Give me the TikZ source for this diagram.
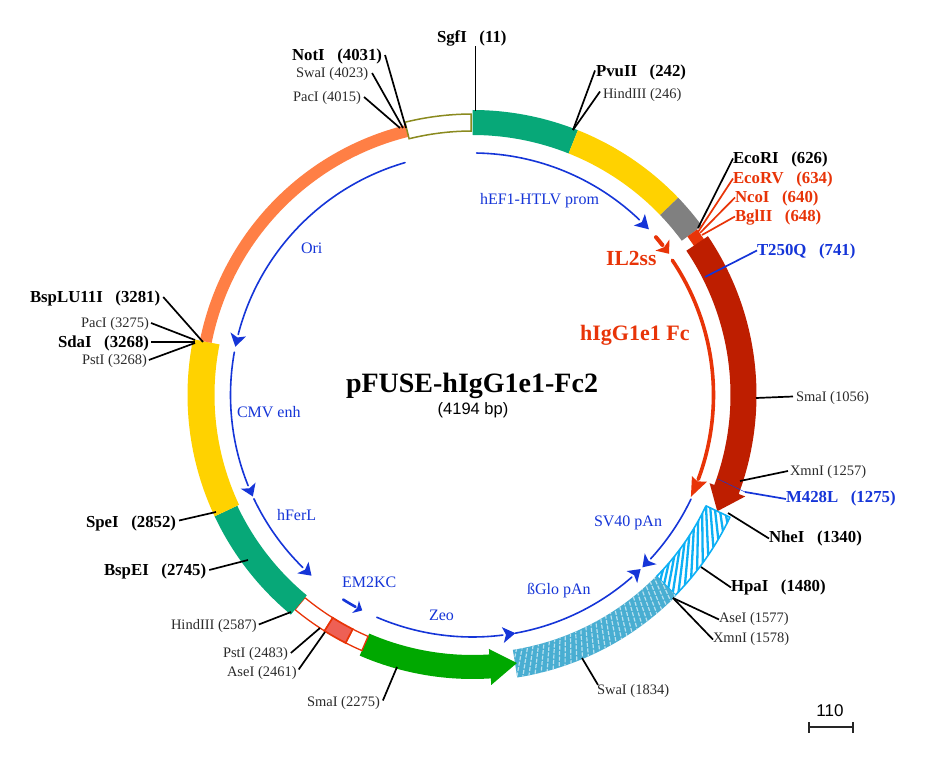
\documentclass[tikz,border=0pt]{standalone}
\usepackage{fontspec}
\setmainfont{Liberation Serif}
\newfontfamily\lsans{Liberation Sans}
\definecolor{cGreen}{HTML}{07A878}
\definecolor{cYellow}{HTML}{FFD200}
\definecolor{cOrange}{HTML}{FF7F45}
\definecolor{cOlive}{HTML}{8A8A1E}
\definecolor{cGrey}{HTML}{808080}
\definecolor{cDark}{HTML}{BE1E00}
\definecolor{cRed}{HTML}{E83408}
\definecolor{cLtRed}{HTML}{EE6055}
\definecolor{cBlue}{HTML}{1535D8}
\definecolor{cBright}{HTML}{0DB0F5}
\definecolor{cHatch}{HTML}{49AED2}
\definecolor{cZeo}{HTML}{00A800}
\definecolor{cTxt}{HTML}{2B2B2B}
\newcommand{\bandpath}[4]{(90-#1:#4) arc[start angle=90-#1,end angle=90-#2,radius=#4] -- (90-#2:#3) arc[start angle=90-#2,end angle=90-#1,radius=#3] -- cycle}
% inner feature arrow: start, end, head base angle, inner wing radius, line width, colour
\newcommand{\innerarrow}[6]{%
  \draw[#6,line width=#5,line cap=round] (90-#1:242) arc[start angle=90-#1,end angle=90-#3,radius=242];
  \fill[#6] (90-#3:#4) -- (90-#2:242) -- (90-#3:484-#4) -- (90-#3-0.25*#2+0.25*#3:242) -- cycle;}
\tikzset{
  lab/.style={anchor=west,inner sep=0pt,outer sep=0pt,yshift=-1.5pt,font=\fontsize{14.5}{16}\selectfont,text=cTxt},
  blab/.style={lab,font=\fontsize{16.8}{18}\selectfont\bfseries,text=black},
  rlab/.style={blab,text=cRed},
  ulab/.style={blab,text=cBlue},
  flab/.style={lab,font=\fontsize{16}{18}\selectfont,text=cBlue},
  con/.style={black,line width=1.7pt},
  rcon/.style={cRed,line width=1.7pt},
  ucon/.style={cBlue,line width=1.7pt}
}
\begin{document}
\begin{tikzpicture}[x=1pt,y=1pt]
\useasboundingbox (0,0) rectangle (948,-767);
\fill[white] (0,0) rectangle (948,-767);
\begin{scope}[shift={(472.5,-395)}]
 % outer bands
 \fill[cGreen] \bandpath{0}{21.7}{260}{285};
 \fill[cYellow] \bandpath{21.7}{46.2}{260}{285};
 \fill[cGrey] \bandpath{46.2}{53.6}{260}{285};
 \fill[cRed] \bandpath{53.6}{56.2}{267}{279};
 % dark red arrow
 \fill[cDark] (90-56:258) arc[start angle=90-56,end angle=90-110.4,radius=258] -- (90-110.4:253) -- (90-115.4:271) -- (90-110.4:291) -- (90-110.4:284) arc[start angle=90-110.4,end angle=90-56,radius=284] -- cycle;
 % cyan hatch
 \begin{scope}
  \clip \bandpath{115.4}{134.6}{258.5}{285};
  \foreach \a in {100,101.9,...,136}{
   \draw[cBright,line width=2.3pt] (90-\a:258) -- (90-\a-9:285);}
 \end{scope}
 \draw[cBright,line width=1.6pt,line join=round] \bandpath{115.4}{134.6}{258.5}{285};
 % blue hatch
 \fill[cHatch] \bandpath{134.6}{171}{258}{286};
 \begin{scope}
  \clip \bandpath{134.6}{171}{258}{286};
  \foreach \a in {130,131.25,...,172}{
   \pgfmathsetmacro{\ph}{mod(\a*3.1,5.5)}
   \draw[white!62!cHatch,line width=1.2pt,dash pattern=on 4pt off 1.5pt,dash phase=\ph pt] (90-\a:256) -- (90-\a-2.5:288);}
 \end{scope}
 % green arrow
 \fill[cZeo] (90-203.4:260) arc[start angle=90-203.4,end angle=90-176.3,radius=260] -- (90-176.3:254.5) -- (90-170.6:271.7) -- (90-176.3:290.6) -- (90-176.3:284) arc[start angle=90-176.3,end angle=90-203.4,radius=284] -- cycle;
 % red outlined
 \draw[cRed,line width=1.3pt] \bandpath{203.4}{207.1}{263}{278.5};
 \draw[cRed,line width=1.3pt] \bandpath{212.1}{219.6}{263}{278.5};
 \fill[cLtRed] \bandpath{207.1}{212.1}{263}{278.5};
 \draw[cRed,line width=1.7pt] \bandpath{207.1}{212.1}{263}{278.5};
 % green 2, yellow 2, orange, olive
 \fill[cGreen] \bandpath{219.6}{244.8}{260}{285};
 \fill[cYellow] \bandpath{244.8}{281.3}{258}{285};
 \fill[cOrange] \bandpath{281.3}{346.1}{266}{278};
 \draw[cOlive,line width=1.5pt] \bandpath{346.1}{359.7}{264}{281};
 % inner arrows
 \innerarrow{1}{46.8}{43.6}{234}{1.6pt}{cBlue}
 \innerarrow{49.3}{54.3}{51.7}{233}{4pt}{cRed}
 \draw[cRed,line width=3.6pt,line cap=round] (90-56:241) arc[start angle=90-56,end angle=90-110.5,radius=241];
 \fill[cRed] (90-110.3:234) -- (90-115:241) -- (90-110.3:250) -- (90-111:241)-- cycle;
 \innerarrow{115.5}{135.4}{132.6}{234}{1.6pt}{cBlue}
 \innerarrow{169.8}{136}{138.8}{234}{1.6pt}{cBlue}
 \innerarrow{203.3}{169.8}{172.8}{234}{1.6pt}{cBlue}
 \innerarrow{212.3}{207.1}{208.9}{235}{2.6pt}{cBlue}
 \innerarrow{343.8}{281.5}{284.5}{234}{1.6pt}{cBlue}
 \innerarrow{280.2}{245.2}{248}{234}{1.6pt}{cBlue}
 \innerarrow{244.6}{221.7}{224.5}{234}{1.6pt}{cBlue}
\end{scope}
% label nodes
\node[blab] (sgf) at (437,-37) {SgfI\ \ \ (11)};
\node[blab] (not) at (292,-55) {NotI\ \ \ (4031)};
\node[lab] (swa1) at (296,-73) {SwaI (4023)};
\node[lab] (pac1) at (293,-97) {PacI (4015)};
\node[blab] (pvu) at (596,-71) {PvuII\ \ \ (242)};
\node[lab] (hin1) at (603,-94) {HindIII (246)};
\node[blab] (eri) at (733,-158) {EcoRI\ \ \ (626)};
\node[rlab] (erv) at (733,-178) {EcoRV\ \ \ (634)};
\node[rlab] (nco) at (735,-197) {NcoI\ \ \ (640)};
\node[rlab] (bgl) at (735,-216) {BglII\ \ \ (648)};
\node[ulab] (t25) at (757,-250) {T250Q\ \ \ (741)};
\node[lab] (sma1) at (796,-397) {SmaI (1056)};
\node[lab] (xmn1) at (790,-471) {XmnI (1257)};
\node[ulab] (m42) at (786,-497) {M428L\ \ \ (1275)};
\node[blab] (nhe) at (769,-537) {NheI\ \ \ (1340)};
\node[blab] (hpa) at (731,-586) {HpaI\ \ \ (1480)};
\node[lab] (ase1) at (719,-618) {AseI (1577)};
\node[lab] (xmn2) at (713,-638) {XmnI (1578)};
\node[lab] (swa2) at (597,-690) {SwaI (1834)};
\node[lab] (sma2) at (307,-702) {SmaI (2275)};
\node[lab] (ase2) at (227,-672) {AseI (2461)};
\node[lab] (pst1) at (223,-653) {PstI (2483)};
\node[lab] (hin2) at (171,-625) {HindIII (2587)};
\node[blab] (bsp) at (104,-570) {BspEI\ \ \ (2745)};
\node[blab] (spe) at (86,-522) {SpeI\ \ \ (2852)};
\node[blab] (blu) at (30,-297) {BspLU11I\ \ \ (3281)};
\node[lab] (pac2) at (81,-323) {PacI (3275)};
\node[blab] (sda) at (58,-342) {SdaI\ \ \ (3268)};
\node[lab] (pst2) at (82,-360) {PstI (3268)};
% feature labels
\node[flab] (hef) at (480,-199) {hEF1-HTLV prom};
\node[flab] (ori) at (301,-247) {Ori};
\node[flab] (cmv) at (237,-411) {CMV enh};
\node[flab] (hfe) at (277,-514) {hFerL};
\node[flab] (em2) at (342,-581) {EM2KC};
\node[flab] (zeo) at (429,-614) {Zeo};
\node[flab] (bgp) at (527,-589) {ßGlo pAn};
\node[flab] (sv4) at (594,-521) {SV40 pAn};
\node[anchor=west,inner sep=0pt,text=cRed,font=\fontsize{21.5}{23}\selectfont\bfseries] (il2) at (606,-258) {IL2ss};
\node[anchor=west,inner sep=0pt,text=cRed,font=\fontsize{22}{24}\selectfont\bfseries] (igg) at (580,-335) {hIgG1e1 Fc};
\node[inner sep=0pt,font=\fontsize{28}{30}\selectfont\bfseries] (title) at (472,-386) {pFUSE-hIgG1e1-Fc2};
\node[inner sep=0pt,font=\fontsize{16.5}{18}\selectfont\lsans] (size) at (473,-410) {(4194 bp)};
\node[inner sep=0pt,font=\fontsize{17}{18}\selectfont\lsans] (sc) at (830,-711) {110};
% connector end coordinates
\foreach \n/\x/\y in {asgf/475.5/111,anot/406/128,aswa/403/128,apac/400/128,apvu/573/130,aeri/698/228,aerv/698/232,anco/700/233,abgl/702/235,at25/705/277,asma/756/398,axmn/740/481,am4i/718/479,am4o/745/492,anhe/728/513,ahpa/701/567,aase/673/598,aswb/582/658,asmb/397/667,aasb/325/632,apsa/320/628,ahib/291/612,absp/248/560,aspe/216/512,ablu/203/342,apab/195/340,asda/195/342,apsb/195/343,sl/809/727,sr/853/727,slt/809/722,slb/809/733,srt/853/722,srb/853/733}{\coordinate (\n) at (\x,-\y);}
\draw[con] (sgf.south -| asgf) -- (asgf);
\draw[con] (not.east) ++(3,1.5) -- (anot);
\draw[con] (swa1.east) ++(4,1.5) -- (aswa);
\draw[con] (pac1.east) ++(3,1.5) -- (apac);
\draw[con] (pvu.west) ++(-1,2) -- (apvu);
\draw[con] (hin1.west) ++(-3,4) -- (apvu);
\draw[con] (eri.west) ++(0,1) -- (aeri);
\draw[rcon] (erv.west) ++(0,1) -- (aerv);
\draw[rcon] (nco.west) ++(0,1) -- (anco);
\draw[rcon] (bgl.west) ++(0,1) -- (abgl);
\draw[ucon] (t25.west) ++(0,1) -- (at25);
\draw[con] (sma1.west) ++(-3,2) -- (asma);
\draw[con] (xmn1.west) ++(-2,1.5) -- (axmn);
\draw[cBlue,line width=0.5pt] (am4i) -- (am4o);
\draw[ucon] (am4o) -- ([yshift=-0.5pt]m42.west);
\draw[con] (nhe.west) -- (anhe);
\draw[con] (hpa.west) -- (ahpa);
\draw[con] (ase1.west) -- (aase);
\draw[con] (xmn2.west) -- (aase);
\draw[con] ([xshift=1pt]swa2.north west) -- (aswb);
\draw[con] (sma2.east) ++(3,3) -- (asmb);
\draw[con] (ase2.east) ++(2,4) -- (aasb);
\draw[con] (pst1.east) ++(3,1.5) -- (apsa);
\draw[con] (hin2.east) ++(2,2) -- (ahib);
\draw[con] (bsp.east) ++(3,1.5) -- (absp);
\draw[con] (spe.east) ++(3,3) -- (aspe);
\draw[con] (blu.east) ++(3,1.5) -- (ablu);
\draw[con] (pac2.east) ++(2,1.5) -- (apab);
\draw[con] (sda.east) ++(2,1.5) -- (asda);
\draw[con] (pst2.east) ++(2,1.5) -- (apsb);
\draw[black!85,line width=1.4pt] (sl) -- (sr);
\draw[black!85,line width=1.2pt] (slt) -- (slb);
\draw[black!85,line width=1.2pt] (srt) -- (srb);
\end{tikzpicture}
\end{document}
